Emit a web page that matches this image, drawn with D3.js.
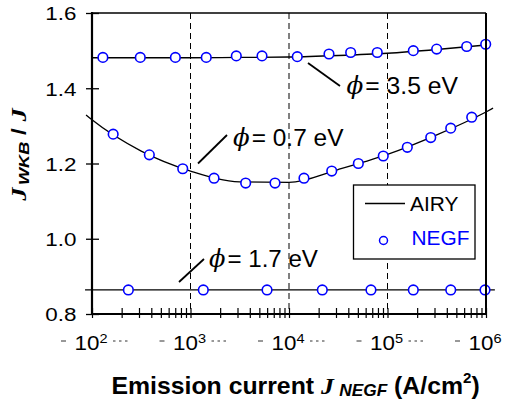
<!DOCTYPE html>
<html>
<head>
<meta charset="utf-8">
<script src="https://cdn.jsdelivr.net/npm/d3@7"></script>
<style>
  body { margin: 0; background: #fff; }
  svg { display: block; font-family: "Liberation Sans", Arial, Helvetica, sans-serif; }
</style>
</head>
<body>
<div id="chart"></div>
<script>
// NEGF points: emission current J (A/cm^2) and ratio J_WKB / J
const negfJ35 = [129, 309, 702, 1445, 2917, 5321, 12130, 25470, 42270, 78700, 182800, 315500, 636800, 993000];
const negfR35 = [1.482, 1.482, 1.482, 1.482, 1.486, 1.486, 1.484, 1.491, 1.495, 1.495, 1.500, 1.504, 1.511, 1.517];
const negfJ07 = [164, 382, 834, 1734, 3631, 7211, 14190, 27160, 50580, 90570, 158900, 274800, 438500, 716100];
const negfR07 = [1.278, 1.223, 1.186, 1.161, 1.148, 1.148, 1.161, 1.180, 1.200, 1.220, 1.243, 1.269, 1.294, 1.323];
const negfJ17 = [234, 1349, 5984, 21780, 67920, 182800, 438500, 977200];
const negfR17 = [0.864, 0.864, 0.864, 0.864, 0.864, 0.864, 0.864, 0.864];

// AIRY curves
const airyJ35 = [100, 1000, 3162, 10000, 31620, 100000, 316200, 1000000];
const airyR35 = [1.481, 1.481, 1.482, 1.483, 1.487, 1.493, 1.503, 1.515];
const airyJ07 = [87, 100, 316, 1000, 3162, 10000, 31620, 100000, 316200, 1000000, 1180000];
const airyR07 = [1.329, 1.316, 1.233, 1.180, 1.151, 1.150, 1.184, 1.224, 1.276, 1.337, 1.347];
const airyJ17 = [85, 1230000];
const airyR17 = [0.864, 0.864];

const phiLabels = ["3.5", "0.7", "1.7"];
const yTicks = [0.8, 1.0, 1.2, 1.4, 1.6];
const decades = [2, 3, 4, 5, 6];
const gridValues = [1e3, 1e4, 1e5];
const legendLabels = ["AIRY", "NEGF"];

const w = 505;
const h = 405;
const blue = "#0000ff";

const x = d3.scaleLog().domain([1e2, 1e6]).range([92, 486]);
const y = d3.scaleLinear().domain([0.8, 1.6]).range([314, 13]);

const svg = d3.select("#chart").append("svg").attr("width", w).attr("height", h);

// squeeze/stretch a text horizontally so it spans x0..x1
function fit(inner, x0, x1) {
  const bb = inner.node().getBBox();
  const s = (x1 - x0) / bb.width;
  inner.attr("transform", `translate(${x0 - bb.x * s},0) scale(${s},1)`);
}

// dashed grid
svg.append("g")
  .selectAll("line")
  .data(gridValues)
  .join("line")
  .attr("x1", (d) => x(d))
  .attr("x2", (d) => x(d))
  .attr("y1", y(1.6))
  .attr("y2", y(0.8))
  .attr("stroke", "#000")
  .attr("stroke-width", 1)
  .attr("stroke-dasharray", "6,4");

// curves
const line = d3.line()
  .x((d) => x(d[0]))
  .y((d) => y(d[1]))
  .curve(d3.curveMonotoneX);

const curves = [
  d3.zip(airyJ35, airyR35),
  d3.zip(airyJ07, airyR07),
  d3.zip(airyJ17, airyR17),
];
svg.append("g")
  .selectAll("path")
  .data(curves)
  .join("path")
  .attr("d", line)
  .attr("fill", "none")
  .attr("stroke", "#000")
  .attr("stroke-width", 1.3);

const points = [
  ...d3.zip(negfJ35, negfR35),
  ...d3.zip(negfJ07, negfR07),
  ...d3.zip(negfJ17, negfR17),
];
svg.append("g")
  .selectAll("circle")
  .data(points)
  .join("circle")
  .attr("cx", (d) => x(d[0]))
  .attr("cy", (d) => y(d[1]))
  .attr("r", 4.8)
  .attr("fill", "#fff")
  .attr("stroke", blue)
  .attr("stroke-width", 1.6);

// frame
svg.append("line").attr("x1", 92).attr("x2", 486).attr("y1", 13).attr("y2", 13)
  .attr("stroke", "#000").attr("stroke-width", 1.5);
svg.append("line").attr("x1", 486).attr("x2", 486).attr("y1", 13).attr("y2", 314)
  .attr("stroke", "#000").attr("stroke-width", 2);

// x axis
const xAxis = d3.axisBottom(x).tickValues(x.ticks()).tickSize(10).tickFormat("");
svg.append("g")
  .attr("transform", `translate(0,${y(0.8)})`)
  .call(xAxis)
  .call((g) => g.select(".domain").remove())
  .call((g) => g.selectAll(".tick line").attr("y1", -6).attr("y2", 4).attr("stroke-width", 1.2));

// y axis
const yAxis = d3.axisLeft(y).tickValues(yTicks).tickSize(6).tickFormat(d3.format(".1f"));
svg.append("g")
  .attr("transform", `translate(${x(1e2)},0)`)
  .call(yAxis)
  .call((g) => g.select(".domain").remove())
  .call((g) => g.selectAll(".tick line").attr("x1", -6).attr("x2", 7).attr("stroke-width", 1.3))
  .call((g) => g.selectAll(".tick text")
    .attr("x", 0)
    .attr("dy", "0.36em")
    .attr("font-size", 19)
    .attr("font-family", "Liberation Sans, Arial, sans-serif")
    .attr("fill", "#000")
    .attr("transform", "translate(-15.5,0) scale(1.18,1)"));

svg.append("line").attr("x1", 92).attr("x2", 92).attr("y1", 12).attr("y2", 315)
  .attr("stroke", "#000").attr("stroke-width", 2.2);
svg.append("line").attr("x1", 91).attr("x2", 487).attr("y1", 314).attr("y2", 314)
  .attr("stroke", "#000").attr("stroke-width", 2.2);

// x tick labels 10^n with the little dashes
const xl = svg.append("g").selectAll("g").data(decades).join("g")
  .attr("transform", (d) => `translate(${x(10 ** d)},350)`);
xl.append("g").attr("transform", "translate(-1,0) scale(1.12,1)")
  .append("text")
  .attr("text-anchor", "middle")
  .attr("font-size", 20)
  .call((t) => t.append("tspan").text("10"))
  .call((t) => t.append("tspan").attr("font-size", 13).attr("dy", -7).text((d) => d));
xl.append("line").attr("x1", -31).attr("x2", -26).attr("y1", -9).attr("y2", -9)
  .attr("stroke", "#333").attr("stroke-width", 1);
xl.selectAll(".dot").data([21, 27, 33]).join("line").attr("class", "dot")
  .attr("x1", (d) => d).attr("x2", (d) => d + 2.5).attr("y1", -9).attr("y2", -9)
  .attr("stroke", "#333").attr("stroke-width", 1);

// legend
const lg = svg.append("g");
lg.append("rect").attr("x", 353.5).attr("y", 185).attr("width", 121.5).attr("height", 74)
  .attr("fill", "#fff").attr("stroke", "#000").attr("stroke-width", 1.3);
lg.append("line").attr("x1", 365).attr("x2", 405).attr("y1", 203.5).attr("y2", 203.5)
  .attr("stroke", "#000").attr("stroke-width", 1.3);
lg.append("circle").attr("cx", 383.5).attr("cy", 240.5).attr("r", 4)
  .attr("fill", "#fff").attr("stroke", blue).attr("stroke-width", 1.5);
const legendPos = [[410, 458.5, 210.8, "#000"], [411.5, 469.5, 245.2, blue]];
legendLabels.forEach((lab, i) => {
  const [x0, x1, yb, c] = legendPos[i];
  const inner = lg.append("g").attr("transform", `translate(0,${yb})`).append("g");
  inner.append("text").attr("font-size", 19.5).attr("fill", c).text(lab);
  fit(inner, x0, x1);
});

// phi annotations
const notes = [
  { x0: 346.5, x1: 458, yb: 93.5, lead: [308, 63, 340, 86] },
  { x0: 233, x1: 343.5, yb: 145.5, lead: [227, 135, 198, 163.5] },
  { x0: 209, x1: 318, yb: 266.8, lead: [204, 259, 179, 282] },
];
notes.forEach((n, i) => {
  svg.append("line")
    .attr("x1", n.lead[0]).attr("y1", n.lead[1]).attr("x2", n.lead[2]).attr("y2", n.lead[3])
    .attr("stroke", "#000").attr("stroke-width", 1.8);
  const inner = svg.append("g").attr("transform", `translate(0,${n.yb})`).append("g");
  const t = inner.append("text").attr("font-size", 24);
  t.append("tspan").attr("font-family", "DejaVu Serif, Liberation Serif, serif")
    .attr("font-style", "italic").text("\u03d5");
  t.append("tspan").attr("dx", 2).text(`= ${phiLabels[i]} eV`);
  fit(inner, n.x0, n.x1);
});

// x title
{
  const inner = svg.append("g").attr("transform", "translate(0,393.5)").append("g");
  const t = inner.append("text").attr("font-size", 23).attr("font-weight", "bold");
  t.append("tspan").text("Emission current ");
  t.append("tspan").attr("font-family", "Liberation Serif, Times New Roman, serif")
    .attr("font-style", "italic").attr("font-size", 24).text("J");
  t.append("tspan").attr("font-style", "italic").attr("font-size", 16).attr("dx", 5).attr("dy", 2).text("NEGF");
  t.append("tspan").attr("dy", -2).text(" (A/cm");
  t.append("tspan").attr("font-size", 14).attr("dy", -11).text("2");
  t.append("tspan").attr("dy", 11).text(")");
  fit(inner, 111.5, 480);
}

// y title
{
  const inner = svg.append("g").attr("transform", "translate(26,202) rotate(-90)").append("g");
  const t = inner.append("text").attr("font-size", 22).attr("font-weight", "bold");
  t.append("tspan").attr("font-family", "Liberation Serif, Times New Roman, serif")
    .attr("font-style", "italic").text("J");
  t.append("tspan").attr("font-style", "italic").attr("font-size", 15).attr("dx", 2).attr("dy", 3).text("WKB");
  t.append("tspan").attr("font-size", 20).attr("dy", -3).text(" / ");
  t.append("tspan").attr("font-family", "Liberation Serif, Times New Roman, serif")
    .attr("font-style", "italic").text("J");
  fit(inner, 0, 95);
}
</script>
</body>
</html>
